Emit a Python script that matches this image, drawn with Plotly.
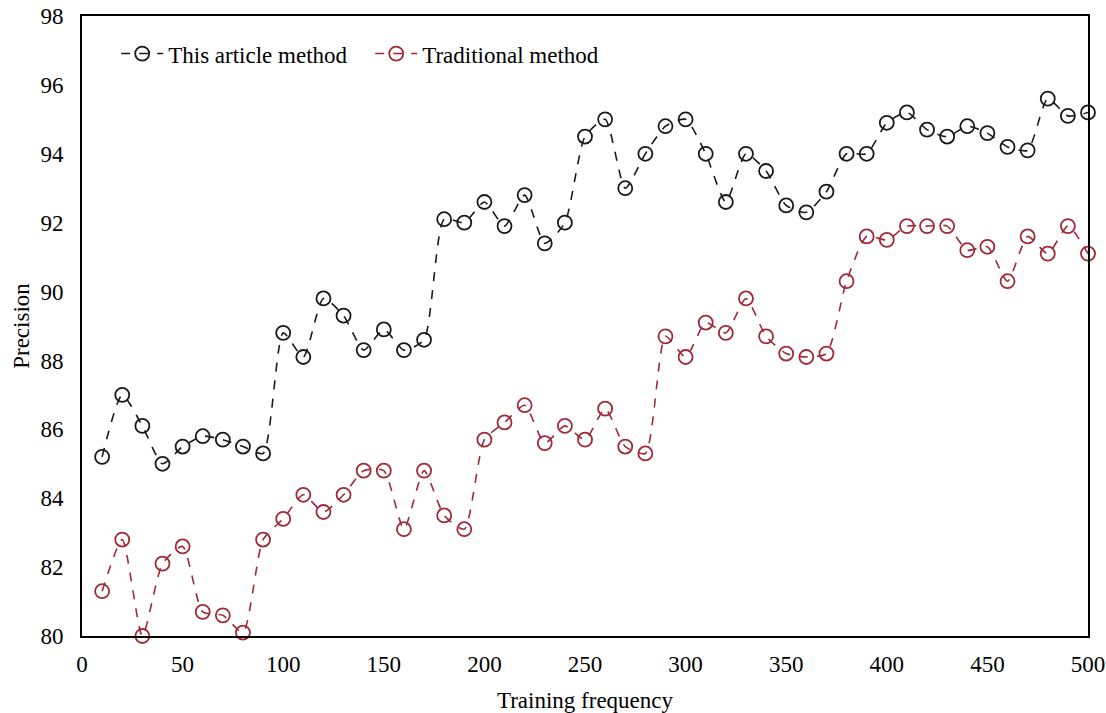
import plotly.graph_objects as go

x_vals = list(range(10, 501, 10))

this_method = [85.2, 87.0, 86.1, 85.0, 85.5, 85.8, 85.7, 85.5, 85.3, 88.8,
               88.1, 89.8, 89.3, 88.3, 88.9, 88.3, 88.6, 92.1, 92.0, 92.6,
               91.9, 92.8, 91.4, 92.0, 94.5, 95.0, 93.0, 94.0, 94.8, 95.0,
               94.0, 92.6, 94.0, 93.5, 92.5, 92.3, 92.9, 94.0, 94.0, 94.9,
               95.2, 94.7, 94.5, 94.8, 94.6, 94.2, 94.1, 95.6, 95.1, 95.2]

traditional = [81.3, 82.8, 80.0, 82.1, 82.6, 80.7, 80.6, 80.1, 82.8, 83.4,
               84.1, 83.6, 84.1, 84.8, 84.8, 83.1, 84.8, 83.5, 83.1, 85.7,
               86.2, 86.7, 85.6, 86.1, 85.7, 86.6, 85.5, 85.3, 88.7, 88.1,
               89.1, 88.8, 89.8, 88.7, 88.2, 88.1, 88.2, 90.3, 91.6, 91.5,
               91.9, 91.9, 91.9, 91.2, 91.3, 90.3, 91.6, 91.1, 91.9, 91.1]

series_names = ["This article method", "Traditional method"]
colors = ["#1a1a1a", "#9E2A3A"]

fig = go.Figure()
for name, ys, c in zip(series_names, [this_method, traditional], colors):
    fig.add_trace(go.Scatter(
        x=x_vals, y=ys, name=name, mode="lines+markers",
        line=dict(color=c, width=1.6, dash="dash", shape="spline", smoothing=0.6),
        marker=dict(symbol="circle-open", size=14, color=c, line=dict(width=1.8, color=c)),
        cliponaxis=False,
    ))

font_family = "Liberation Serif"
fig.update_layout(
    width=1106, height=713,
    margin=dict(l=82, r=18, t=16, b=77),
    paper_bgcolor="white", plot_bgcolor="white",
    font=dict(family=font_family, size=23, color="black"),
    showlegend=True,
    legend=dict(orientation="h", x=0.034, y=0.974, xanchor="left", yanchor="top",
                bgcolor="rgba(0,0,0,0)", font=dict(size=23), itemwidth=42,
                entrywidth=197),
    xaxis=dict(range=[0, 500], dtick=50, tick0=0, showgrid=False, zeroline=False,
               showline=True, linecolor="black", linewidth=2, mirror=True,
               ticks="outside", ticklen=6, tickcolor="rgba(0,0,0,0)", automargin=False,
               ticklabeloverflow="allow",
               title=dict(text="Training frequency", font=dict(size=23), standoff=18),
               tickfont=dict(size=23)),
    yaxis=dict(range=[80, 98], dtick=2, tick0=80, showgrid=False, zeroline=False,
               showline=True, linecolor="black", linewidth=2, mirror=True,
               ticks="outside", ticklen=12, tickcolor="rgba(0,0,0,0)", automargin=False,
               ticklabeloverflow="allow",
               title=dict(text="Precision", font=dict(size=23), standoff=4),
               tickfont=dict(size=23)),
)

fig.write_html("out.html",
               config={"displayModeBar": False},
               post_script="document.body.style.margin='0';document.body.style.overflow='hidden';")
